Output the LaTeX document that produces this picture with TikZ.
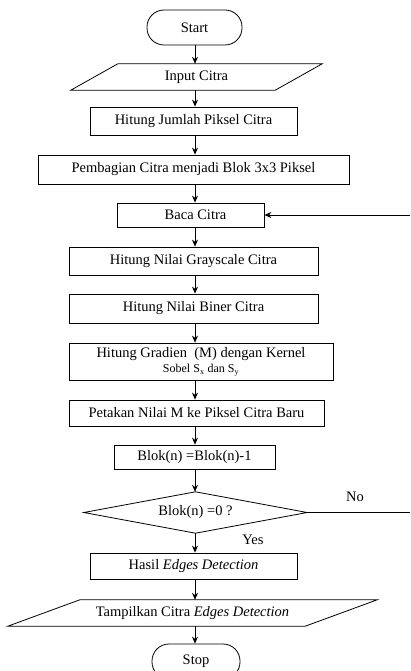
\documentclass[tikz,border=0pt]{standalone}
\usepackage{fontspec}
\setmainfont{Liberation Serif}
\usetikzlibrary{calc,arrows.meta}
\begin{document}
\begin{tikzpicture}[x=1pt,y=-1pt,
  txt/.style={font=\fontsize{14.5}{15}\selectfont},
  box/.style={draw,thick,rectangle,inner sep=0pt,txt},
  term/.style={draw,thick,rectangle,rounded corners=17pt,inner sep=0pt,txt},
  io/.style={rectangle,inner sep=0pt,txt},
  flow/.style={thick,-{Stealth[length=7pt,width=6pt]}},
  lbl/.style={txt,inner sep=0pt}]
\useasboundingbox (0,0) rectangle (410,671);
\coordinate (ax) at (195,0);
\node[term,minimum width=95,minimum height=35] (start) at (194.5,27.5) {Start};
\node[io,minimum width=204,minimum height=26] (in) at (196.5,77) {Input Citra};
\draw[thick] ($(in.north west)+(23.5,0)$) -- ($(in.north east)+(23.5,0)$) -- ($(in.south east)-(23.5,0)$) -- ($(in.south west)-(23.5,0)$) -- cycle;
\node[box,minimum width=207,minimum height=28] (jml) at (193.5,121) {Hitung Jumlah Piksel Citra};
\node[box,minimum width=311,minimum height=29] (bagi) at (193.5,169.5) {Pembagian Citra menjadi Blok 3x3 Piksel};
\node[box,minimum width=147,minimum height=24] (baca) at (190.5,215) {\hspace{10pt}Baca Citra};
\node[box,minimum width=249,minimum height=28] (gray) at (193.5,261) {Hitung Nilai Grayscale Citra};
\node[box,minimum width=249,minimum height=29] (biner) at (193.5,308.5) {Hitung Nilai Biner Citra};
\node[box,minimum width=264,minimum height=37,align=center] (grad) at (201,361.5) {\fontsize{14.5}{12}\selectfont Hitung Gradien\ \ (M) dengan Kernel\\{\fontsize{12}{12}\selectfont Sobel S\textsubscript{x} dan S\textsubscript{y}}};
\node[box,minimum width=255,minimum height=26] (peta) at (196.5,413) {Petakan Nilai M ke Piksel Citra Baru};
\node[box,minimum width=161,minimum height=24] (blok) at (194.5,457) {Blok(n) =Blok(n)-1};
\node[io,minimum width=223,minimum height=41] (dec) at (195.5,512.5) {Blok(n) =0 ?};
\draw[thick] (dec.north) -- (dec.east) -- (dec.south) -- (dec.west) -- cycle;
\node[box,minimum width=207,minimum height=26] (hasil) at (193.5,566) {Hasil \textit{Edges Detection}};
\node[io,minimum width=297,minimum height=26] (tamp) at (192.5,613) {Tampilkan Citra \textit{Edges Detection}};
\draw[thick] ($(tamp.north west)+(36,0)$) -- ($(tamp.north east)+(36,0)$) -- ($(tamp.south east)-(36,0)$) -- ($(tamp.south west)-(36,0)$) -- cycle;
\node[term,minimum width=88,minimum height=35] (stop) at (196,661.5) {Stop};
\coordinate (noend) at (410,512.5);
\coordinate (backin) at (410,215);
\node[lbl] (no) at (355,497) {No};
\node[lbl] (yes) at (253,540) {Yes};
\draw[flow] (start.south -| ax) -- (in.north -| ax);
\draw[flow] (in.south -| ax) -- (jml.north -| ax);
\draw[flow] (jml.south -| ax) -- (bagi.north -| ax);
\draw[flow] (bagi.south -| ax) -- (baca.north -| ax);
\draw[flow] (baca.south -| ax) -- (gray.north -| ax);
\draw[flow] (gray.south -| ax) -- (biner.north -| ax);
\draw[flow] (biner.south -| ax) -- (grad.north -| ax);
\draw[flow] (grad.south -| ax) -- (peta.north -| ax);
\draw[flow] (peta.south -| ax) -- (blok.north -| ax);
\draw[flow] (blok.south -| ax) -- (dec.north -| ax);
\draw[flow] (dec.south -| ax) -- (hasil.north -| ax);
\draw[flow] (hasil.south -| ax) -- (tamp.north -| ax);
\draw[flow] (tamp.south -| ax) -- (stop.north -| ax);
\draw[thick] (dec.east) -- (noend);
\draw[flow] (backin) -- (baca.east);
\end{tikzpicture}
\end{document}
